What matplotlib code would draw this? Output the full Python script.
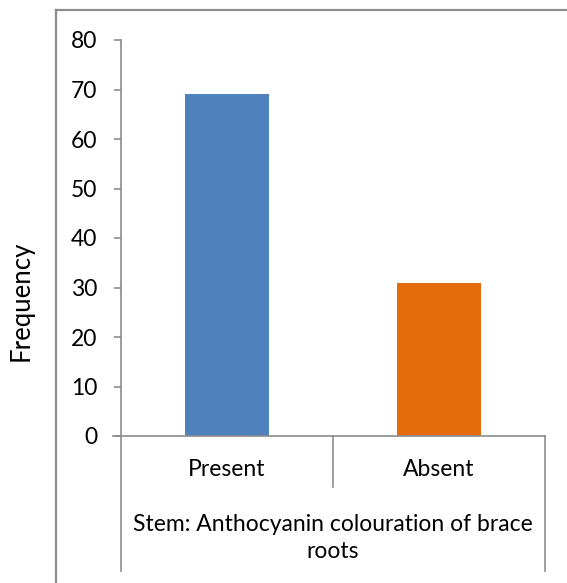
import matplotlib
matplotlib.use('Agg')
import matplotlib.pyplot as plt
import matplotlib.transforms as mtransforms
from matplotlib.lines import Line2D

# data
categories = ['Present', 'Absent']
frequency = [69, 31]
bar_colors = ['#4f81bd', '#e46c0a']
group_label = 'Stem: Anthocyanin colouration of brace\nroots'
y_ticks = [0, 10, 20, 30, 40, 50, 60, 70, 80]

plt.rcParams['font.family'] = ['Lato', 'DejaVu Sans']

W, H = 567, 583
fig = plt.figure(figsize=(W / 100, H / 100), dpi=100)

# axes placed in pixels: x 121..545, y 40..436
x0, x1, y_top, y_bot = 121, 545, 40, 436
ax = fig.add_axes([x0 / W, (H - y_bot) / H, (x1 - x0) / W, (y_bot - y_top) / H])

grey = '#8c8c8c'
x = list(range(len(categories)))
ax.bar(x, frequency, width=0.4, color=bar_colors)
ax.set_xlim(-0.5, len(categories) - 0.5)
ax.set_ylim(0, 80)
ax.set_yticks(y_ticks)
ax.tick_params(axis='y', length=5, width=1.2, color=grey, labelsize=16.5, pad=12)
ax.set_xticks([])
for s in ['top', 'right']:
    ax.spines[s].set_visible(False)
ax.spines['left'].set_color(grey)
ax.spines['left'].set_linewidth(1.2)
ax.spines['bottom'].set_visible(False)

# horizontal axis line extending a bit left like Excel
px = lambda v: v / (x1 - x0) * len(categories)  # pixels -> data width
ax.plot([-0.5 - px(8), len(categories) - 0.5], [0, 0], color=grey, lw=1.2,
        clip_on=False)

# category table lines (x in data, y in axes fraction)
trans = mtransforms.blended_transform_factory(ax.transData, ax.transAxes)
h = y_bot - y_top
bottom_long = -(571 - y_bot) / h
bottom_short = -(487 - y_bot) / h
ax.plot([-0.5, -0.5], [0, bottom_long], color=grey, lw=1.2, transform=trans, clip_on=False)
ax.plot([len(categories) - 0.5] * 2, [0, bottom_long], color=grey, lw=1.2, transform=trans, clip_on=False)
for i in range(len(categories) - 1):
    ax.plot([i + 0.5] * 2, [0, bottom_short], color=grey, lw=1.2, transform=trans, clip_on=False)

for i, c in enumerate(categories):
    ax.text(i, -(470 - y_bot) / h, c, transform=trans, ha='center', va='center', fontsize=16.5)
ax.text((len(categories) - 1) / 2, -(538 - y_bot) / h, group_label, transform=trans,
        ha='center', va='center', fontsize=16.5, linespacing=1.4)

fig.text(21 / W, (H - 301) / H, 'Frequency', rotation=90, ha='center', va='center', fontsize=18.5)

# outer chart border (cropped)
fig.add_artist(Line2D([56 / W, 56 / W], [0, (H - 10) / H], color=grey, lw=1.6, transform=fig.transFigure))
fig.add_artist(Line2D([56 / W, 1], [(H - 10) / H] * 2, color=grey, lw=1.6, transform=fig.transFigure))

fig.savefig('out.png', dpi=100)
